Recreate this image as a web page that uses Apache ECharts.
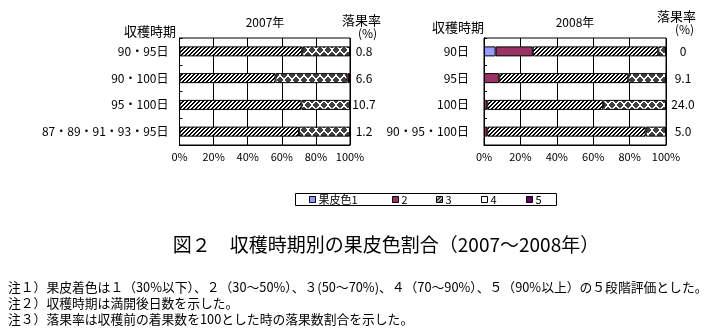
<!DOCTYPE html>
<html>
<head>
<meta charset="utf-8">
<script src="https://cdn.jsdelivr.net/npm/echarts@6/dist/echarts.min.js"></script>
<style>
  html, body { margin: 0; padding: 0; background: #fff; }
  #chart { width: 727px; height: 333px; }
</style>
</head>
<body>
<div id="chart"></div>
<script>
// Peel colour classes (果皮色 1–5)
const classNames = ['果皮色1', '2', '3', '4', '5'];

// 2007: harvest timing categories, drop rate labels, share of each colour class (%)
const cats2007 = ['90・95日', '90・100日', '95・100日', '87・89・91・93・95日'];
const drop2007 = ['0.8', '6.6', '10.7', '1.2'];
const c1_2007 = [0, 0, 0, 0];
const c2_2007 = [0, 0, 0, 0];
const c3_2007 = [72, 56.3, 71.5, 70];
const c4_2007 = [28, 42.2, 28.5, 30];
const c5_2007 = [0, 1.5, 0, 0];

// 2008
const cats2008 = ['90日', '95日', '100日', '90・95・100日'];
const drop2008 = ['0', '9.1', '24.0', '5.0'];
const c1_2008 = [6.4, 0, 0, 0];
const c2_2008 = [20.4, 8.4, 1.8, 1.8];
const c3_2008 = [69, 70.9, 63.7, 87];
const c4_2008 = [4.2, 20.7, 34.5, 11.2];
const c5_2008 = [0, 0, 0, 0];

const xTickValues = [0, 20, 40, 60, 80, 100];

const FONT = '"Noto Sans CJK JP", "Noto Sans CJK SC", sans-serif';

// Diagonal hatch fill for class 3
function makeHatch() {
  const c = document.createElement('canvas');
  c.width = 4; c.height = 4;
  const ctx = c.getContext('2d');
  const img = ctx.createImageData(4, 4);
  for (let y = 0; y < 4; y++) {
    for (let x = 0; x < 4; x++) {
      const on = ((x + y) % 4) === 3 || ((x + y) % 4) === 0;
      const i = (y * 4 + x) * 4;
      const v = on ? 0 : 255;
      img.data[i] = v; img.data[i + 1] = v; img.data[i + 2] = v; img.data[i + 3] = 255;
    }
  }
  ctx.putImageData(img, 0, 0);
  return c;
}

// Diamond lattice fill for class 4, drawn pixel by pixel
function makeDiamonds() {
  const w = 8, h = 10;
  const c = document.createElement('canvas');
  c.width = w; c.height = h;
  const ctx = c.getContext('2d');
  const img = ctx.createImageData(w, h);
  const centres = [[4, 5], [0, 0], [8, 0], [0, 10], [8, 10]];
  for (let y = 0; y < h; y++) {
    for (let x = 0; x < w; x++) {
      const on = centres.some(p => Math.abs(x + 0.5 - p[0]) + Math.abs(y + 0.5 - p[1]) <= 3.2);
      const i = (y * w + x) * 4;
      const v = on ? 0x40 : 255;
      img.data[i] = v; img.data[i + 1] = v; img.data[i + 2] = v; img.data[i + 3] = 255;
    }
  }
  ctx.putImageData(img, 0, 0);
  return c;
}

const hatchFill = { image: makeHatch(), repeat: 'repeat' };
const diamondFill = { image: makeDiamonds(), repeat: 'repeat' };
const fills = ['#9999ff', '#993366', hatchFill, diamondFill, '#660066'];
const legendFills = ['#9999ff', '#993366', hatchFill, '#ffffff', '#660066'];

const data2007 = [c1_2007, c2_2007, c3_2007, c4_2007, c5_2007];
const data2008 = [c1_2008, c2_2008, c3_2008, c4_2008, c5_2008];

const series = [];
[data2007, data2008].forEach((set, g) => {
  set.forEach((arr, k) => {
    series.push({
      type: 'bar',
      name: classNames[k],
      xAxisIndex: g,
      yAxisIndex: g * 2,
      stack: 'year' + g,
      barWidth: 10,
      data: arr.map(v => (v > 0 ? v : null)),
      itemStyle: { color: fills[k], borderColor: '#000', borderWidth: 1 },
      emphasis: { disabled: true },
      animation: false
    });
  });
});

function xAxis(gridIndex) {
  return {
    type: 'value', gridIndex, min: 0, max: 100, interval: 20,
    axisLine: { show: true, lineStyle: { color: '#000', width: 1 } },
    axisTick: { show: false },
    splitLine: { show: true, lineStyle: { color: '#000', width: 1 } },
    axisLabel: {
      color: '#000', fontSize: 11, fontFamily: FONT, margin: 6,
      formatter: v => (xTickValues.includes(v) ? v + '%' : '')
    }
  };
}

function catAxis(gridIndex, cats, margin) {
  return {
    type: 'category', gridIndex, data: cats, inverse: true, position: 'left',
    axisLine: { show: true, lineStyle: { color: '#000' } },
    axisTick: { show: true, inside: true, length: 3, lineStyle: { color: '#000' } },
    axisLabel: { color: '#000', fontSize: 12, fontFamily: FONT, margin }
  };
}

function rateAxis(gridIndex, rates, margin) {
  return {
    type: 'category', gridIndex, data: rates, inverse: true, position: 'right',
    axisLine: { show: false }, axisTick: { show: false },
    axisLabel: { color: '#000', fontSize: 12, fontFamily: FONT, margin, align: 'center' }
  };
}

function txt(text, x, y, size, align) {
  return {
    type: 'text', x, y,
    style: { text, fill: '#000', font: size + 'px ' + FONT, textAlign: align || 'left', textVerticalAlign: 'middle' }
  };
}

const legendX = [309, 392, 436, 481, 526];
const legends = classNames.map((n, k) => ({
  left: legendX[k], top: 194,
  itemWidth: 6, itemHeight: 6, itemGap: 0, padding: 0,
  selectedMode: false,
  textStyle: { color: '#000', fontSize: 11, fontFamily: FONT, padding: [0, 0, 0, -2] },
  data: [{ name: n, icon: 'rect', itemStyle: { color: legendFills[k], borderColor: '#000', borderWidth: 1 } }]
}));

const chart = echarts.init(document.getElementById('chart'), null, { renderer: 'canvas' });
chart.setOption({
  animation: false,
  backgroundColor: '#fff',
  grid: [
    { left: 179.5, top: 38, width: 170.5, height: 107, show: true, borderColor: '#000', borderWidth: 1, containLabel: false },
    { left: 484, top: 38, width: 182, height: 107, show: true, borderColor: '#000', borderWidth: 1, containLabel: false }
  ],
  xAxis: [xAxis(0), xAxis(1)],
  yAxis: [
    catAxis(0, cats2007, 11), rateAxis(0, drop2007, 14),
    catAxis(1, cats2008, 15), rateAxis(1, drop2008, 17)
  ],
  legend: legends,
  series,
  graphic: [
    { type: 'rect', shape: { x: 295.5, y: 193.5, width: 261, height: 12 }, style: { fill: 'none', stroke: '#000', lineWidth: 1 }, z: 0 },
    txt('2007年', 265, 22, 12, 'center'),
    txt('収穫時期', 124, 31, 13),
    txt('落果率', 342, 20, 13),
    txt('(%)', 358, 33, 12),
    txt('2008年', 575, 22, 12, 'center'),
    txt('収穫時期', 432, 27, 13),
    txt('落果率', 657, 16, 13),
    txt('(%)', 675, 29, 12),
    txt('図２　収穫時期別の果皮色割合（2007～2008年）', 386, 245, 19, 'center'),
    txt('注１）果皮着色は１（30%以下）、２（30～50%）、３(50～70%)、４（70～90%）、５（90%以上）の５段階評価とした。', 8, 287, 12.8),
    txt('注２）収穫時期は満開後日数を示した。', 8, 303, 12.8),
    txt('注３）落果率は収穫前の着果数を100とした時の落果数割合を示した。', 8, 319, 12.8)
  ]
});
</script>
</body>
</html>
